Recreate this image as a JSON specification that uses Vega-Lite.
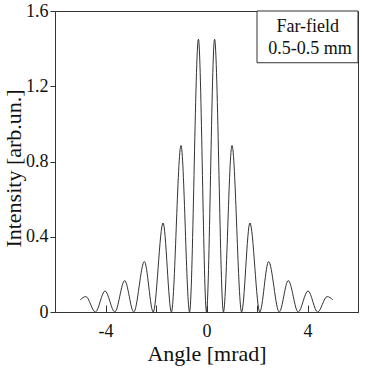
{
  "$schema": "https://vega.github.io/schema/vega-lite/v6.json",
  "width": 303,
  "height": 301,
  "autosize": {"type": "none"},
  "padding": {"left": 55, "top": 11, "right": 10, "bottom": 56},
  "background": "white",
  "config": {
    "view": {"stroke": "#333", "strokeWidth": 1},
    "font": "Liberation Serif",
    "axis": {
      "grid": false,
      "domainColor": "#333",
      "tickColor": "#333",
      "labelColor": "#111",
      "titleColor": "#111",
      "labelFont": "Liberation Serif",
      "titleFont": "Liberation Serif",
      "labelFontSize": 18,
      "titleFontSize": 22,
      "titleFontWeight": "normal"
    }
  },
  "datasets": {
    "curve": [
      {"angle": -5.0, "intensity": 0.065},
      {"angle": -4.78, "intensity": 0.082},
      {"angle": -4.40, "intensity": 0},
      {"angle": -4.02, "intensity": 0.112},
      {"angle": -3.63, "intensity": 0},
      {"angle": -3.24, "intensity": 0.167},
      {"angle": -2.88, "intensity": 0},
      {"angle": -2.46, "intensity": 0.268},
      {"angle": -2.11, "intensity": 0},
      {"angle": -1.72, "intensity": 0.473},
      {"angle": -1.39, "intensity": 0},
      {"angle": -1.01, "intensity": 0.885},
      {"angle": -0.67, "intensity": 0},
      {"angle": -0.32, "intensity": 1.45},
      {"angle": 0.0, "intensity": 0},
      {"angle": 0.32, "intensity": 1.45},
      {"angle": 0.67, "intensity": 0},
      {"angle": 1.01, "intensity": 0.885},
      {"angle": 1.39, "intensity": 0},
      {"angle": 1.72, "intensity": 0.473},
      {"angle": 2.11, "intensity": 0},
      {"angle": 2.46, "intensity": 0.268},
      {"angle": 2.88, "intensity": 0},
      {"angle": 3.24, "intensity": 0.167},
      {"angle": 3.63, "intensity": 0},
      {"angle": 4.02, "intensity": 0.112},
      {"angle": 4.40, "intensity": 0},
      {"angle": 4.78, "intensity": 0.082},
      {"angle": 5.0, "intensity": 0.065}
    ],
    "box": [{"x1": 2.0, "x2": 6.0, "y1": 1.325, "y2": 1.6}],
    "labels": [
      {"x": 4.01, "y": 1.49, "text": "Far-field"},
      {"x": 4.1, "y": 1.371, "text": "0.5-0.5 mm"}
    ]
  },
  "layer": [
    {
      "data": {"name": "curve"},
      "mark": {"type": "line", "interpolate": "monotone", "color": "#333", "strokeWidth": 1},
      "encoding": {
        "x": {
          "field": "angle",
          "type": "quantitative",
          "scale": {"domain": [-6, 6], "nice": false, "zero": false},
          "axis": {
            "title": "Angle [mrad]",
            "values": [-6, -5, -4, -3, -2, -1, 0, 1, 2, 3, 4, 5, 6],
            "labelExpr": "datum.value % 4 === 0 ? (datum.value < 0 ? '-' + abs(datum.value) : '' + datum.value) : ''",
            "tickSize": -7,
            "labelPadding": 17,
            "titleY": 48,
            "titleBaseline": "alphabetic"
          }
        },
        "y": {
          "field": "intensity",
          "type": "quantitative",
          "scale": {"domain": [0, 1.6], "nice": false},
          "axis": {
            "title": "Intensity [arb.un.]",
            "values": [0, 0.2, 0.4, 0.6, 0.8, 1.0, 1.2, 1.4, 1.6],
            "labelExpr": "round(datum.value * 10) % 4 === 0 ? format(datum.value, '~g') : ''",
            "tickSize": 5,
            "labelPadding": 2,
            "titleX": -35,
            "titleY": 157,
            "titleAngle": -90,
            "titleAlign": "center",
            "titleBaseline": "alphabetic"
          }
        }
      }
    },
    {
      "data": {"name": "box"},
      "mark": {"type": "rect", "fill": "white", "stroke": "#333", "strokeWidth": 1},
      "encoding": {
        "x": {"field": "x1", "type": "quantitative"},
        "x2": {"field": "x2"},
        "y": {"field": "y1", "type": "quantitative"},
        "y2": {"field": "y2"}
      }
    },
    {
      "data": {"name": "labels"},
      "mark": {"type": "text", "font": "Liberation Serif", "fontSize": 18, "align": "center", "baseline": "alphabetic", "color": "#111"},
      "encoding": {
        "x": {"field": "x", "type": "quantitative"},
        "y": {"field": "y", "type": "quantitative"},
        "text": {"field": "text"}
      }
    }
  ]
}
